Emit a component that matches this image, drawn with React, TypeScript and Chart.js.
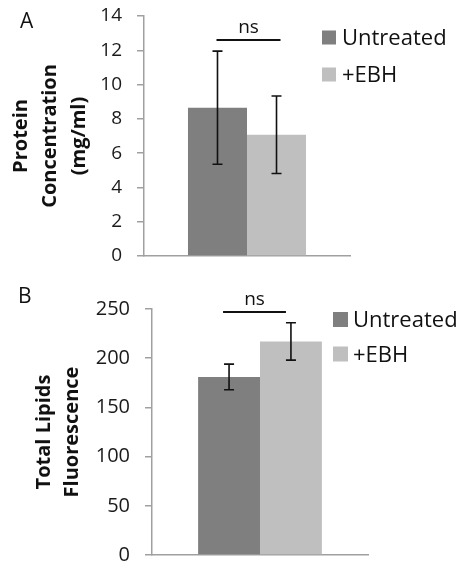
import React, { useEffect, useRef } from 'react';
import { Chart, registerables } from 'chart.js';

Chart.register(...registerables);

// ---- data ----
const categories = [''];
const seriesLabels = ['Untreated', '+EBH'];
const seriesColors = ['#7f7f7f', '#bfbfbf'];

const proteinMeans = [8.65, 7.07];
const proteinErrors = [3.3, 2.26];
const proteinTickMax = 14;
const proteinTickStep = 2;
const proteinTitle = ['Protein', 'Concentration', '(mg/ml)'];

const lipidMeans = [181, 217];
const lipidErrors = [13, 19];
const lipidTickMax = 250;
const lipidTickStep = 50;
const lipidTitle = ['Total Lipids', 'Fluorescence'];

const sigLabel = 'ns';
const proteinBracketValue = 12.6;
const lipidBracketValue = 247;

const FONT = '"Open Sans", sans-serif';

type PanelCfg = {
  panel: string;
  means: number[];
  errors: number[];
  max: number;
  step: number;
  title: string[];
  bracketValue: number;
  width: number;
  height: number;
  yWidth: number;
  padding: { top: number; right: number; bottom: number; left: number };
  tickSize: number;
  tickLength: number;
  titlePad: number;
  titleLineHeight: number;
  panelPos: { x: number; y: number };
  bracketDx: [number, number];
  legend: { x: number; y: number; gap: number; box: number; textGap: number };
};

function makeOverlay(cfg: PanelCfg) {
  return {
    id: 'overlay',
    afterDatasetsDraw(chart: any) {
      const ctx = chart.ctx as CanvasRenderingContext2D;
      const ys = chart.scales.y;
      ctx.save();
      // error bars
      ctx.strokeStyle = '#111';
      ctx.lineWidth = 1.6;
      chart.data.datasets.forEach((ds: any, i: number) => {
        const meta = chart.getDatasetMeta(i);
        meta.data.forEach((el: any, j: number) => {
          const m = ds.data[j];
          const e = cfg.errors[i];
          const x = el.x;
          const yHi = ys.getPixelForValue(m + e);
          const yLo = ys.getPixelForValue(m - e);
          ctx.beginPath();
          ctx.moveTo(x, yHi);
          ctx.lineTo(x, yLo);
          ctx.moveTo(x - 5, yHi);
          ctx.lineTo(x + 5, yHi);
          ctx.moveTo(x - 5, yLo);
          ctx.lineTo(x + 5, yLo);
          ctx.stroke();
        });
      });
      // significance bracket
      const x1 = chart.getDatasetMeta(0).data[0].x + cfg.bracketDx[0];
      const x2 = chart.getDatasetMeta(1).data[0].x + cfg.bracketDx[1];
      const by = ys.getPixelForValue(cfg.bracketValue);
      ctx.lineWidth = 2;
      ctx.beginPath();
      ctx.moveTo(x1, by);
      ctx.lineTo(x2, by);
      ctx.stroke();
      ctx.fillStyle = '#111';
      ctx.font = `19px ${FONT}`;
      ctx.textAlign = 'center';
      ctx.textBaseline = 'alphabetic';
      ctx.fillText(sigLabel, (x1 + x2) / 2, by - 7);
      // legend
      const lg = cfg.legend;
      ctx.font = `22px ${FONT}`;
      ctx.textAlign = 'left';
      ctx.textBaseline = 'middle';
      chart.data.datasets.forEach((ds: any, i: number) => {
        const cy = lg.y + i * lg.gap;
        ctx.fillStyle = ds.backgroundColor;
        ctx.fillRect(lg.x, cy - lg.box / 2, lg.box, lg.box);
        ctx.fillStyle = '#111';
        ctx.fillText(ds.label, lg.x + lg.box + lg.textGap, cy + 1.5);
      });
      // panel letter
      ctx.font = `21px ${FONT}`;
      ctx.fillText(cfg.panel, cfg.panelPos.x, cfg.panelPos.y);
      ctx.restore();
    },
  };
}

function Panel({ cfg }: { cfg: PanelCfg }) {
  const ref = useRef<HTMLCanvasElement | null>(null);
  useEffect(() => {
    if (!ref.current) return;
    const chart = new Chart(ref.current, {
      type: 'bar',
      data: {
        labels: categories,
        datasets: seriesLabels.map((label, i) => ({
          label,
          data: [cfg.means[i]],
          backgroundColor: seriesColors[i],
          borderWidth: 0,
          categoryPercentage: 0.573,
          barPercentage: 1.0,
        })),
      },
      options: {
        responsive: false,
        animation: false,
        devicePixelRatio: 1,
        layout: { padding: cfg.padding },
        plugins: {
          legend: { display: false },
          tooltip: { enabled: false },
          title: { display: false },
        },
        scales: {
          x: {
            grid: { display: false },
            ticks: { display: false },
            border: { display: true, color: '#a0a0a0', width: 1.5 },
            afterFit: (s: any) => {
              s.height = 0;
              s.paddingLeft = 0;
              s.paddingRight = 0;
            },
          },
          y: {
            min: 0,
            max: cfg.max,
            ticks: {
              stepSize: cfg.step,
              padding: 15,
              color: '#1a1a1a',
              font: { family: FONT, size: cfg.tickSize },
            },
            grid: {
              display: true,
              drawOnChartArea: false,
              drawTicks: true,
              tickLength: cfg.tickLength,
              color: '#a0a0a0',
              lineWidth: 1.5,
            },
            border: { display: true, color: '#a0a0a0', width: 1.5 },
            title: {
              display: true,
              text: cfg.title,
              color: '#111',
              font: { family: FONT, size: 20, weight: 'bold', lineHeight: cfg.titleLineHeight },
              padding: { top: cfg.titlePad, bottom: 0 },
            },
            afterFit: (s: any) => {
              s.width = cfg.yWidth;
              s.paddingTop = 0;
              s.paddingBottom = 0;
            },
          },
        },
      },
      plugins: [makeOverlay(cfg)],
    } as any);
    return () => chart.destroy();
  }, [cfg]);
  return <canvas ref={ref} width={cfg.width} height={cfg.height} style={{ display: 'block' }} />;
}

const panelA: PanelCfg = {
  panel: 'A',
  means: proteinMeans,
  errors: proteinErrors,
  max: proteinTickMax,
  step: proteinTickStep,
  title: proteinTitle,
  bracketValue: proteinBracketValue,
  width: 460,
  height: 280,
  yWidth: 144,
  padding: { top: 16, right: 110, bottom: 24, left: 0 },
  tickSize: 19,
  tickLength: 7,
  titlePad: 7,
  titleLineHeight: 1.45,
  panelPos: { x: 20, y: 22 },
  bracketDx: [-1, 4],
  legend: { x: 322, y: 37.5, gap: 37, box: 14, textGap: 6 },
};

const panelB: PanelCfg = {
  panel: 'B',
  means: lipidMeans,
  errors: lipidErrors,
  max: lipidTickMax,
  step: lipidTickStep,
  title: lipidTitle,
  bracketValue: lipidBracketValue,
  width: 460,
  height: 300,
  yWidth: 152,
  padding: { top: 29, right: 92, bottom: 25, left: 0 },
  tickSize: 20,
  tickLength: 7,
  titlePad: 30,
  titleLineHeight: 1.4,
  panelPos: { x: 18, y: 17 },
  bracketDx: [-6, -5],
  legend: { x: 333, y: 39.5, gap: 34.5, box: 15, textGap: 5 },
};

export default function App() {
  return (
    <div
      style={{
        position: 'absolute',
        left: 0,
        top: 0,
        width: 460,
        height: 564,
        overflow: 'hidden',
        background: '#fff',
      }}
    >
      <div style={{ position: 'absolute', left: 0, top: 0 }}>
        <Panel cfg={panelA} />
      </div>
      <div style={{ position: 'absolute', left: 0, top: 280 }}>
        <Panel cfg={panelB} />
      </div>
    </div>
  );
}
